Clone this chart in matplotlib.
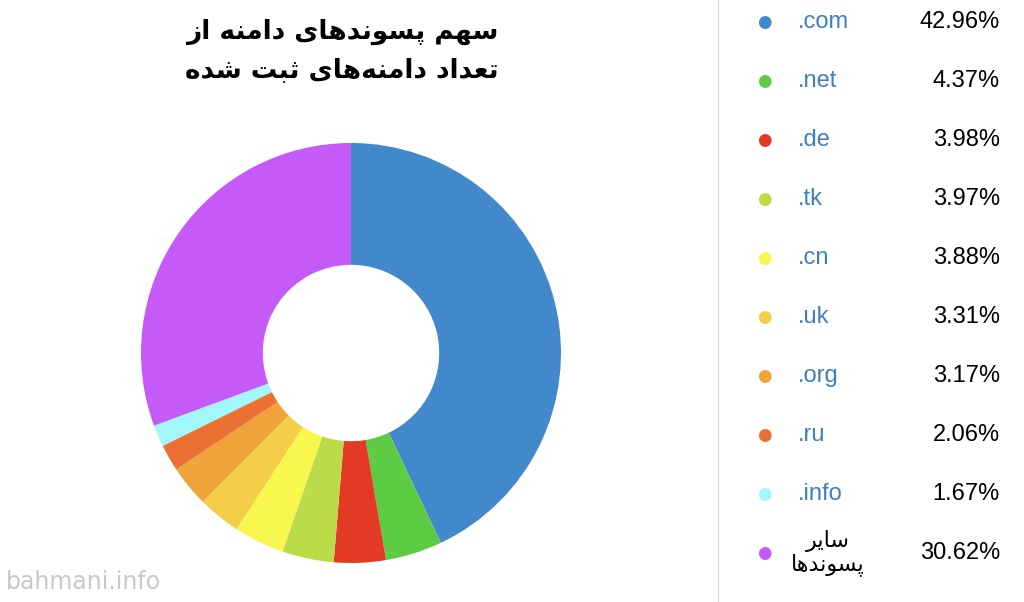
import matplotlib
matplotlib.use("Agg")
import matplotlib.pyplot as plt

# ─── DATA ────────────────────────────────────────────────────────────────
labels = [".com", ".net", ".de", ".tk", ".cn", ".uk", ".org", ".ru", ".info", "OTHER"]
shares = [42.96, 4.37, 3.98, 3.97, 3.88, 3.31, 3.17, 2.06, 1.67, 30.62]
colors = ["#4189CB", "#5ECB45", "#E23A24", "#BBDB48", "#F8F74E",
          "#F5CE48", "#EFA33A", "#EA7131", "#A2F7FA", "#C65AF8"]
title_lines = ["سهم پسوندهای دامنه از", "تعداد دامنه\u200cهای ثبت شده"]
other_lines = ["سایر", "پسوندها"]

# ─── minimal Persian shaping (presentation forms, visual order) ─────────
FORMS = {
    "ا": "\uFE8D\uFE8E", "د": "\uFEA9\uFEAA", "ر": "\uFEAD\uFEAE",
    "ز": "\uFEAF\uFEB0", "و": "\uFEED\uFEEE",
    "ب": "\uFE8F\uFE90\uFE91\uFE92", "ت": "\uFE95\uFE96\uFE97\uFE98",
    "ث": "\uFE99\uFE9A\uFE9B\uFE9C", "س": "\uFEB1\uFEB2\uFEB3\uFEB4",
    "ش": "\uFEB5\uFEB6\uFEB7\uFEB8", "ع": "\uFEC9\uFECA\uFECB\uFECC",
    "م": "\uFEE1\uFEE2\uFEE3\uFEE4", "ن": "\uFEE5\uFEE6\uFEE7\uFEE8",
    "ه": "\uFEE9\uFEEA\uFEEB\uFEEC", "ی": "\uFBFC\uFBFD\uFBFE\uFBFF",
    "پ": "\uFB56\uFB57\uFB58\uFB59",
}


def shape(text):
    out = []
    for i, ch in enumerate(text):
        if ch not in FORMS:
            if ch != "\u200c":
                out.append(ch)
            continue
        prev = text[i - 1] if i > 0 else ""
        nxt = text[i + 1] if i + 1 < len(text) else ""
        jp = prev in FORMS and len(FORMS[prev]) == 4
        jn = len(FORMS[ch]) == 4 and nxt in FORMS
        f = FORMS[ch]
        if jp and jn:
            out.append(f[3])
        elif jp:
            out.append(f[1])
        elif jn:
            out.append(f[2])
        else:
            out.append(f[0])
    return "".join(reversed(out))


W, H = 1024, 602
fig = plt.figure(figsize=(W / 100, H / 100), dpi=100)

# donut
cx, cy, r = 351, 353, 210
ax = fig.add_axes([(cx - r) / W, (H - cy - r) / H, 2 * r / W, 2 * r / H])
ax.pie(shares, colors=colors, startangle=90, counterclock=False,
       radius=1, wedgeprops=dict(width=0.58, edgecolor="none"))
ax.set_xlim(-1, 1)
ax.set_ylim(-1, 1)
ax.set_aspect("auto")
ax.axis("off")

# title
for i, line in enumerate(title_lines):
    fig.text(342 / W, 1 - (32 + 38 * i) / H, shape(line), ha="center", va="center",
             fontsize=19, fontweight="bold", family="DejaVu Sans")

# divider
fig.add_artist(plt.Line2D([718 / W, 718 / W], [0, 1], color="#dddddd", lw=1))

# legend
for i, (lab, val, col) in enumerate(zip(labels, shares, colors)):
    y = 1 - (22 + 59 * i) / H
    fig.text(764 / W, y, "●", color=col, ha="center", va="center", fontsize=12)
    if lab == "OTHER":
        for j, line in enumerate(other_lines):
            fig.text(828 / W, y + (12 - 24 * j) / H, shape(line), ha="center",
                     va="center", fontsize=16, family="DejaVu Sans")
    else:
        fig.text(798 / W, y, lab, color="#3F7FC0", ha="left", va="center",
                 fontsize=17, family="Liberation Sans")
    fig.text(1000 / W, y, f"{val:.2f}%", ha="right", va="center", fontsize=17,
             family="Liberation Sans")

fig.text(6 / W, 1 - 582 / H, "bahmani.info", color="#c8c8c8", fontsize=17,
         ha="left", va="center")

fig.savefig("out.png", dpi=100, facecolor="white")
